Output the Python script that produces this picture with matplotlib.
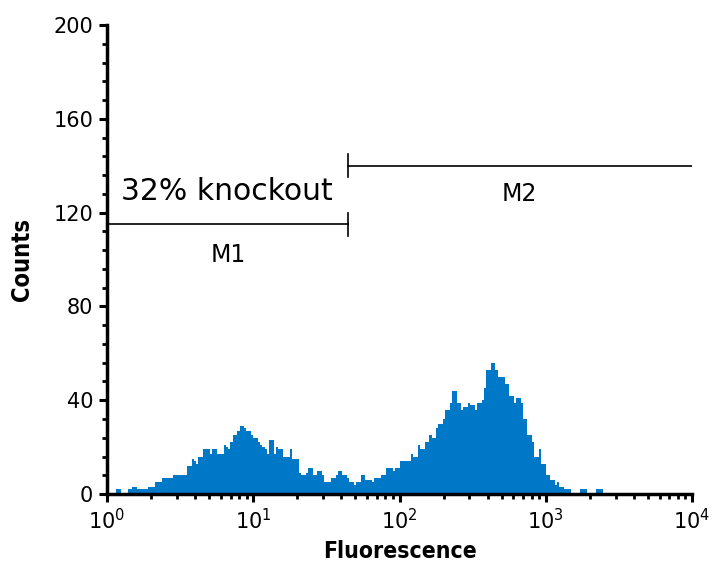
import numpy as np
import matplotlib
matplotlib.use("Agg")
import matplotlib.pyplot as plt
from matplotlib.ticker import MultipleLocator, LogLocator

# Histogram counts per channel (256 channels over 4 decades)
counts = [
    0, 0, 0, 0, 2, 2, 0, 0, 0, 2, 2, 3, 3, 2, 2, 2,
    2, 2, 3, 3, 3, 5, 5, 5, 7, 7, 7, 7, 7, 8, 8, 8,
    8, 8, 8, 12, 12, 15, 14, 13, 16, 16, 19, 19, 19, 17, 19, 19,
    17, 17, 17, 21, 20, 19, 22, 25, 25, 27, 29, 29, 28, 27, 27, 25,
    24, 24, 22, 21, 20, 19, 17, 23, 23, 17, 20, 19, 19, 16, 16, 16,
    19, 15, 15, 15, 9, 8, 8, 9, 11, 11, 8, 8, 10, 10, 8, 5,
    5, 5, 7, 7, 8, 10, 10, 8, 8, 7, 5, 5, 4, 5, 5, 8,
    8, 6, 6, 6, 5, 7, 7, 7, 8, 8, 11, 11, 11, 10, 11, 11,
    14, 14, 14, 14, 14, 17, 16, 16, 21, 19, 19, 22, 22, 25, 24, 24,
    28, 30, 30, 32, 36, 36, 39, 44, 44, 39, 39, 36, 37, 37, 39, 38,
    38, 36, 39, 39, 40, 45, 53, 53, 56, 56, 53, 50, 50, 50, 47, 47,
    42, 42, 39, 41, 41, 39, 32, 32, 25, 25, 22, 16, 16, 19, 13, 13,
    8, 8, 6, 6, 4, 5, 3, 3, 2, 2, 2, 0, 0, 0, 0, 2,
    2, 2, 0, 0, 0, 0, 2, 2, 2, 0, 0, 0, 0, 0, 0, 0,
    0, 0, 0, 0, 0, 0, 0, 0, 0, 0, 0, 0, 0, 0, 0, 0,
    0, 0, 0, 0, 0, 0, 0, 0, 0, 0, 0, 0, 0, 0, 0, 0,
]

# Marker gates
m1_range = [1, 44.5]
m1_level = 115
m2_range = [44.5, 10000]
m2_level = 140
gate_labels = ["M1", "M2"]
gate_label_pos = [(6.7, 102), (656, 128)]
annotation = "32% knockout"

bar_color = "#0078C8"

# Channel edges on a log scale
edges = np.logspace(0, 4, len(counts) + 1)

fig = plt.figure(figsize=(7.25, 5.67), dpi=100)
ax = fig.add_axes([0.1476, 0.1287, 0.8069, 0.8272])

# Histogram
ax.stairs(counts, edges, fill=True, color=bar_color, linewidth=0)

# M1 gate
ax.plot(m1_range, [m1_level, m1_level], color="black", linewidth=1.2)
ax.plot([m1_range[1], m1_range[1]], [m1_level - 5, m1_level + 5], color="black", linewidth=1.2)
# M2 gate
ax.plot(m2_range, [m2_level, m2_level], color="black", linewidth=1.2)
ax.plot([m2_range[0], m2_range[0]], [m2_level - 5, m2_level + 5], color="black", linewidth=1.2)

for lab, (lx, ly) in zip(gate_labels, gate_label_pos):
    ax.text(lx, ly, lab, ha="center", va="center", fontsize=17)

ax.text(1.25, 129, annotation, ha="left", va="center", fontsize=21.5)

# Axes
ax.set_xscale("log")
ax.set_xlim(1, 10000)
ax.set_ylim(0, 200)
ax.yaxis.set_major_locator(MultipleLocator(40))
ax.yaxis.set_minor_locator(MultipleLocator(8))
ax.xaxis.set_major_locator(LogLocator(base=10, numticks=10))
ax.xaxis.set_minor_locator(LogLocator(base=10, subs=np.arange(2, 10), numticks=50))

for side in ["top", "right"]:
    ax.spines[side].set_visible(False)
for side in ["left", "bottom"]:
    ax.spines[side].set_linewidth(2.5)

ax.tick_params(which="major", length=6, width=2.2, labelsize=15, pad=4)
ax.tick_params(which="minor", length=3.5, width=2.0)

ax.set_xlabel("Fluorescence", fontsize=16.5, fontweight="bold", fontstretch="condensed",
              labelpad=5)
ax.set_ylabel("Counts", fontsize=17, fontweight="bold", fontstretch="condensed",
              labelpad=14)

fig.savefig("out.png", dpi=100)
